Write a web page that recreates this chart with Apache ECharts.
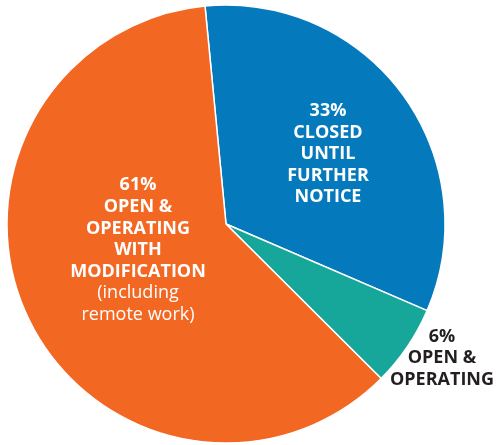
<!DOCTYPE html>
<html><head><meta charset="utf-8">
<script src="https://cdn.jsdelivr.net/npm/echarts@6/dist/echarts.min.js"></script>
<style>html,body{margin:0;padding:0;background:#fff}#c{width:496px;height:445px}</style>
</head><body><div id="c"></div>
<script>
var categories = ['CLOSED UNTIL FURTHER NOTICE', 'OPEN & OPERATING', 'OPEN & OPERATING WITH MODIFICATION'];
var values = [33, 6, 61];
var colors = ['#0479BC', '#16A79A', '#F26722'];
var labelLines = [
  ['33%', 'CLOSED', 'UNTIL', 'FURTHER', 'NOTICE'],
  ['6%', 'OPEN &', 'OPERATING'],
  ['61%', 'OPEN &', 'OPERATING', 'WITH', 'MODIFICATION']
];
var subLines = [[], [], ['(including', 'remote work)']];

var chart = echarts.init(document.getElementById('c'), null, {renderer: 'canvas'});
var labelPos = [[328, 154], [442, 358], [138, 250]];
var textColors = ['#ffffff', '#231F20', '#ffffff'];
var graphics = [];
for (var i = 0; i < categories.length; i++) {
  var txt = labelLines[i].map(function (s) { return '{b|' + s + '}'; }).concat(
    subLines[i].map(function (s) { return '{n|' + s + '}'; })).join('\n');
  graphics.push({
    type: 'text', x: labelPos[i][0], y: labelPos[i][1], z: 100,
    style: {
      text: txt, align: 'center', verticalAlign: 'middle',
      fill: textColors[i],
      rich: {
        b: {fontFamily: 'Open Sans', fontWeight: 'bold', fontSize: 18, lineHeight: 21.6, fill: textColors[i], align: 'center'},
        n: {fontFamily: 'Open Sans', fontWeight: 'normal', fontSize: 18, lineHeight: 21.6, fill: textColors[i], align: 'center'}
      }
    }
  });
}
chart.setOption({
  animation: false,
  series: [{
    type: 'pie',
    center: [226, 224],
    radius: 219,
    startAngle: 95.5,
    clockwise: true,
    label: {show: false},
    labelLine: {show: false},
    itemStyle: {borderColor: '#ffffff', borderWidth: 1.5},
    data: categories.map(function (c, i) {
      return {name: c, value: values[i], itemStyle: {color: colors[i]}};
    })
  }],
  graphic: graphics
});
</script></body></html>
